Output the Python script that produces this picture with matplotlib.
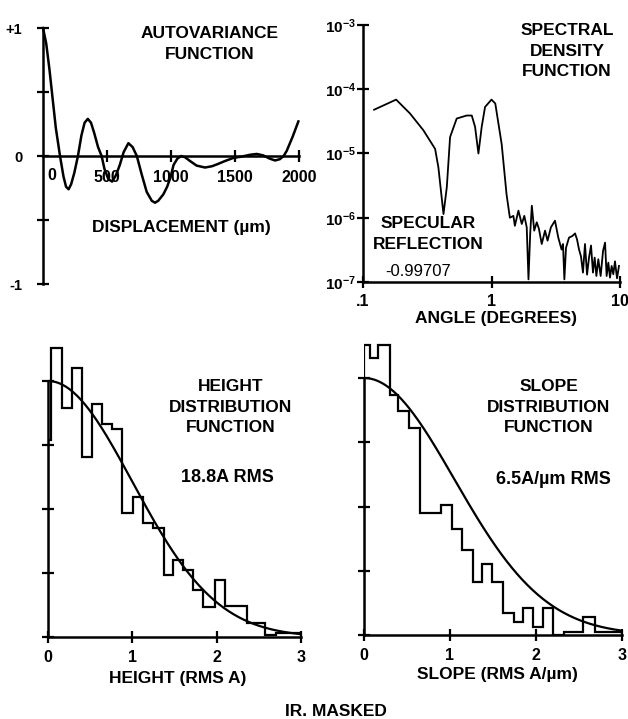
import numpy as np
import matplotlib
matplotlib.use("Agg")
import matplotlib.pyplot as plt
from matplotlib.ticker import NullLocator

plt.rcParams['font.family'] = ['Liberation Sans', 'DejaVu Sans']
plt.rcParams['font.weight'] = 'bold'
plt.rcParams['mathtext.default'] = 'regular'

# ---------------- data ----------------
# autovariance function (displacement in um, normalised value)
av_disp = [0, 25, 50, 75, 100, 133, 160, 180, 200, 220, 245, 273, 300, 325, 350,
           375, 400, 430, 458, 480, 510, 540, 570, 600, 630, 667, 700, 733, 770,
           810, 850, 875, 900, 940, 970, 995, 1020, 1050, 1080, 1110, 1150, 1200,
           1266, 1320, 1360, 1420, 1487, 1550, 1620, 1670, 1720, 1770, 1813, 1850,
           1880, 1904, 1950, 1995]
av_value = [1.00, 0.88, 0.68, 0.45, 0.22, 0.0, -0.16, -0.24, -0.26, -0.22, -0.13,
            0.0, 0.16, 0.26, 0.29, 0.26, 0.18, 0.07, 0.0, -0.10, -0.18, -0.20,
            -0.15, -0.07, 0.03, 0.10, 0.07, 0.0, -0.14, -0.28, -0.35, -0.365,
            -0.35, -0.30, -0.24, -0.17, -0.07, -0.02, 0.0, -0.01, -0.04, -0.075,
            -0.09, -0.08, -0.065, -0.04, -0.015, -0.005, 0.01, 0.016, 0.005,
            -0.02, -0.035, -0.025, 0.0, 0.04, 0.15, 0.27]
av_xticks = [500, 1000, 1500, 2000]
av_xlabels = ['500', '1000', '1500', '2000']
av_yticks = [-1, -0.5, 0, 0.5, 1]
av_ylabels = ['-1', '', '0', '', '+1']

# spectral density function (angle in degrees)
sd_angle = [0.122, 0.181, 0.232, 0.295, 0.364, 0.386, 0.423, 0.449, 0.476, 0.536,
            0.641, 0.702, 0.745, 0.791, 0.839, 0.891, 1.0, 1.07, 1.20, 1.31, 1.39,
            1.48, 1.52, 1.62, 1.72, 1.80, 1.88, 1.94, 2.00, 2.06, 2.15, 2.25, 2.34,
            2.46, 2.61, 2.73, 2.90, 3.12, 3.31, 3.51, 3.60, 3.69, 3.80, 4.01, 4.26,
            4.47, 4.63, 4.80, 4.97, 5.15, 5.34, 5.54, 5.74, 5.95, 6.16, 6.35, 6.55,
            6.78, 7.07, 7.38, 7.65, 7.87, 8.11, 8.36, 8.61, 8.87, 9.14, 9.48, 9.82]
sd_density = [4.8e-5, 6.9e-5, 4.2e-5, 2.3e-5, 1.18e-5, 6.1e-6, 1.14e-6, 3.0e-6,
              1.8e-5, 3.5e-5, 3.9e-5, 3.9e-5, 2.6e-5, 1.0e-5, 2.6e-5, 5.3e-5,
              6.9e-5, 6.0e-5, 1.4e-5, 2.3e-6, 1.0e-6,
              1.07e-6, 7.5e-7, 1.29e-6, 8.0e-7, 1.07e-6, 7.1e-7, 1.1e-7, 5.6e-7,
              1.54e-6, 6.3e-7, 8.5e-7, 6.7e-7, 3.9e-7, 6.3e-7, 4.4e-7, 7.1e-7,
              9.0e-7, 4.9e-7, 3.2e-7, 3.9e-7, 1.1e-7, 3.4e-7, 4.9e-7, 5.2e-7,
              5.7e-7, 4.6e-7, 3.2e-7, 2.5e-7, 1.4e-7, 3.9e-7, 1.3e-7, 2.4e-7,
              3.7e-7, 1.4e-7, 2.4e-7, 1.24e-7, 2.26e-7, 1.24e-7, 3.05e-7, 4.1e-7,
              1.24e-7, 2.0e-7, 1.17e-7, 1.78e-7, 1.32e-7, 2.1e-7, 1.14e-7, 1.78e-7]
sd_xticks = [0.1, 1, 10]
sd_xlabels = ['.1', '1', '10']
sd_yticks = [1e-7, 1e-6, 1e-5, 1e-4, 1e-3]
sd_ylabels = ['$10^{-7}$', '$10^{-6}$', '$10^{-5}$', '$10^{-4}$', '$10^{-3}$']

# height distribution (bin edges in RMS units, relative counts)
ht_edges = [0, 0.04, 0.163, 0.288, 0.40, 0.518, 0.637, 0.756, 0.874, 1.01, 1.13,
            1.25, 1.37, 1.486, 1.605, 1.724, 1.842, 1.98, 2.10, 2.357, 2.574,
            2.70, 3.0]
ht_counts = [0.77, 1.13, 0.893, 1.05, 0.704, 0.91, 0.832, 0.811, 0.486, 0.548,
             0.444, 0.425, 0.242, 0.30, 0.262, 0.184, 0.118, 0.223, 0.122, 0.053,
             0.008, 0.017]
ht_rms = 1.0

# slope distribution
sl_edges = [0, 0.07, 0.16, 0.30, 0.40, 0.52, 0.65, 0.90, 1.02, 1.14, 1.27, 1.37,
            1.49, 1.62, 1.74, 1.85, 1.97, 2.08, 2.20, 2.32, 2.55, 2.69, 3.0]
sl_counts = [1.128, 1.078, 1.128, 0.934, 0.873, 0.804, 0.474, 0.504, 0.412, 0.331,
             0.207, 0.277, 0.207, 0.084, 0.052, 0.104, 0.032, 0.104, 0.0, 0.013,
             0.071, 0.013]
sl_rms = 1.05

dist_xticks = [0, 1, 2, 3]
dist_xlabels = ['0', '1', '2', '3']
dist_yticks = [0, 0.25, 0.5, 0.75, 1.0]

# ---------------- figure ----------------
W, H = 628, 719
fig = plt.figure(figsize=(W / 100, H / 100), dpi=100)


def axes_px(x0, y_top, x1, y_bot):
    return fig.add_axes([x0 / W, 1 - y_bot / H, (x1 - x0) / W, (y_bot - y_top) / H])


def ftext(x, y, s, **kw):
    kw.setdefault('ha', 'center')
    kw.setdefault('va', 'center')
    kw.setdefault('fontsize', 12.5)
    fig.text(x / W, 1 - y / H, s, **kw)


def style(ax):
    ax.patch.set_alpha(0)
    for s in ('top', 'right'):
        ax.spines[s].set_visible(False)
    for s in ('left', 'bottom'):
        ax.spines[s].set_linewidth(1.8)
    ax.tick_params(direction='inout', length=8, width=1.6, labelsize=11.5)


# autovariance
ax1 = axes_px(43, 28, 299, 284)
style(ax1)
ax1.plot(av_disp, av_value, color='black', lw=1.8, clip_on=False)
ax1.set_xlim(0, 2000)
ax1.set_ylim(-1, 1)
ax1.spines['bottom'].set_position(('data', 0))
ax1.set_xticks(av_xticks, av_xlabels)
ax1.set_yticks(av_yticks, av_ylabels)
ax1.tick_params(axis='x', pad=6)
ax1.tick_params(axis='y', pad=11, labelsize=10.5)
ax1.text(70, -0.095, '0', ha='center', va='top', fontsize=11.5)

ftext(210, 44, 'AUTOVARIANCE\nFUNCTION', linespacing=1.5)
ftext(181, 228, 'DISPLACEMENT (µm)')

# spectral density
ax2 = axes_px(363, 25, 620, 282)
style(ax2)
ax2.set_xscale('log')
ax2.set_yscale('log')
ax2.plot(sd_angle, sd_density, color='black', lw=1.3)
ax2.set_xlim(0.1, 10)
ax2.set_ylim(1e-7, 1e-3)
ax2.set_xticks(sd_xticks, sd_xlabels)
ax2.set_yticks(sd_yticks, sd_ylabels)
ax2.xaxis.set_minor_locator(NullLocator())
ax2.yaxis.set_minor_locator(NullLocator())
ax2.tick_params(axis='x', pad=5)
ax2.tick_params(axis='y', pad=1, labelsize=11)

ftext(567, 51, 'SPECTRAL\nDENSITY\nFUNCTION', linespacing=1.45)
ftext(428, 234, 'SPECULAR\nREFLECTION', linespacing=1.45)
ftext(418, 271, '-0.99707', fontsize=12, fontweight='normal')
ftext(496, 319, 'ANGLE (DEGREES)')

# height distribution
ax3 = axes_px(48, 637 - 1.2 * 256, 301, 637)
style(ax3)
ax3.stairs(ht_counts, ht_edges, baseline=0, color='black', lw=1.6)
gx = np.linspace(0, 3, 200)
ax3.plot(gx, np.exp(-0.5 * (gx / ht_rms) ** 2), color='black', lw=1.6)
ax3.set_xlim(0, 3)
ax3.set_ylim(0, 1.2)
ax3.spines['left'].set_bounds(0, 1)
ax3.set_xticks(dist_xticks, dist_xlabels)
ax3.set_yticks(dist_yticks, [''] * len(dist_yticks))
ax3.tick_params(axis='x', pad=5)

ftext(231, 407, 'HEIGHT\nDISTRIBUTION\nFUNCTION', linespacing=1.45)
ftext(227, 478, '18.8A RMS', fontsize=13)
ftext(178, 679, 'HEIGHT (RMS A)')

# slope distribution
ax4 = axes_px(364, 635 - 1.2 * 257, 622, 635)
style(ax4)
ax4.stairs(sl_counts, sl_edges, baseline=0, color='black', lw=1.6)
ax4.plot(gx, np.exp(-0.5 * (gx / sl_rms) ** 2), color='black', lw=1.6)
ax4.set_xlim(0, 3)
ax4.set_ylim(0, 1.2)
ax4.spines['left'].set_bounds(0, 1)
ax4.set_xticks(dist_xticks, dist_xlabels)
ax4.set_yticks(dist_yticks, [''] * len(dist_yticks))
ax4.tick_params(axis='x', pad=5)

ftext(549, 407, 'SLOPE\nDISTRIBUTION\nFUNCTION', linespacing=1.45)
ftext(553, 479, '6.5A/µm RMS', fontsize=13)
ftext(497, 675, 'SLOPE (RMS A/µm)')

ftext(336, 711, 'IR. MASKED')

fig.savefig('out.png', dpi=100)
